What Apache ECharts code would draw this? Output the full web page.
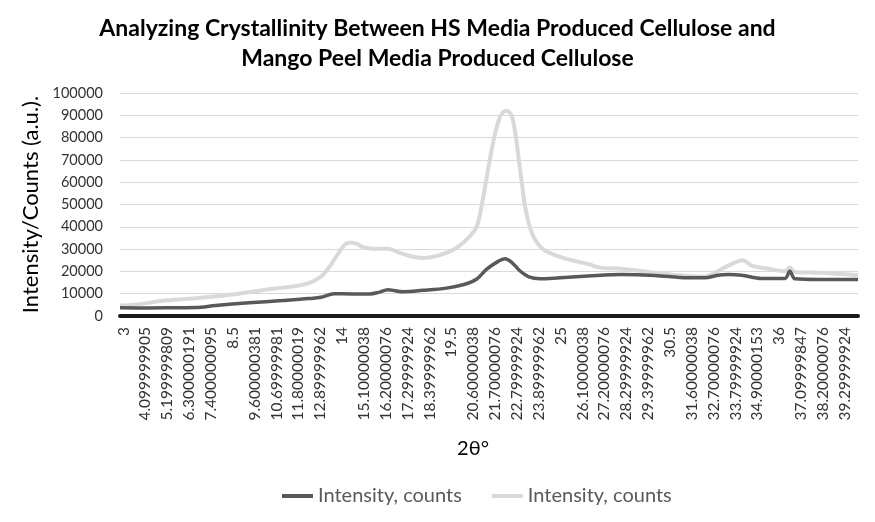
<!DOCTYPE html>
<html>
<head>
<meta charset="utf-8">
<script src="https://cdn.jsdelivr.net/npm/echarts@6/dist/echarts.min.js"></script>
<style>
  html, body { margin: 0; padding: 0; background: #fff; }
  #chart { width: 875px; height: 522px; }
</style>
</head>
<body>
<div id="chart"></div>
<script>
// 2θ tick positions and their labels as printed on the original category axis
const tickValues = [3, 4.1, 5.2, 6.3, 7.4, 8.5, 9.6, 10.7, 11.8, 12.9, 14, 15.1, 16.2, 17.3, 18.4, 19.5,
  20.6, 21.7, 22.8, 23.9, 25, 26.1, 27.2, 28.3, 29.4, 30.5, 31.6, 32.7, 33.8, 34.9, 36, 37.1, 38.2, 39.3];
const tickLabels = ["3", "4.099999905", "5.199999809", "6.300000191", "7.400000095", "8.5", "9.600000381",
  "10.69999981", "11.80000019", "12.89999962", "14", "15.10000038", "16.20000076", "17.29999924",
  "18.39999962", "19.5", "20.60000038", "21.70000076", "22.79999924", "23.89999962", "25",
  "26.10000038", "27.20000076", "28.29999924", "29.39999962", "30.5", "31.60000038", "32.70000076",
  "33.79999924", "34.90000153", "36", "37.09999847", "38.20000076", "39.29999924"];

// HS media produced cellulose (dark line)
const darkTheta = [2.82, 4.27, 5.5, 6.63, 7.63, 9.31, 10.99, 12.33, 13.0, 13.59, 14.5, 15.39, 15.84,
  16.31, 16.73, 17.06, 18.07, 19.25, 20.08, 20.76, 21.26, 21.85, 22.18, 22.52, 22.94, 23.44, 23.95,
  24.79, 26.38, 28.06, 29.74, 31.41, 32.25, 32.91, 33.43, 34.1, 35.11, 36.28, 36.53, 36.79, 37.96, 39.96];
const darkCounts = [3700, 3600, 3700, 3800, 4700, 5900, 6900, 7800, 8500, 10000, 9900, 9900, 10600,
  11800, 11200, 10900, 11500, 12500, 14000, 16500, 20900, 24500, 25700, 24200, 20300, 17400, 16700,
  17000, 17900, 18600, 18200, 17100, 17100, 18300, 18600, 18300, 16800, 16800, 20100, 16700, 16400, 16400];

// Mango peel media produced cellulose (light line)
const lightTheta = [2.82, 3.6, 5.11, 6.79, 8.47, 10.15, 11.49, 12.33, 12.92, 13.34, 13.71, 14.13, 14.4,
  14.75, 15.05, 15.55, 16.31, 16.73, 17.4, 18.07, 18.91, 19.75, 20.42, 20.77, 21.03, 21.23, 21.43, 21.65,
  21.93, 22.1, 22.27, 22.42, 22.56, 22.75, 22.89, 23.04, 23.19, 23.44, 23.69, 24.03, 24.45, 24.92, 25.54,
  26.38, 26.97, 28.06, 29.74, 31.41, 32.25, 32.75, 33.43, 34.18, 34.6, 35.44, 36.28, 36.53, 36.79, 38.13, 39.96];
const lightCounts = [4700, 5100, 6900, 8100, 9600, 11800, 13200, 14700, 17600, 21800, 26700, 32000, 33000,
  32300, 30900, 30200, 30200, 28900, 26900, 26000, 27300, 30500, 35700, 40000, 50000, 60000, 70000, 80000,
  89000, 91300, 92000, 91300, 89000, 80000, 70000, 60000, 50000, 40000, 34500, 30500, 28300, 26600, 25000,
  23300, 21700, 21200, 19400, 17900, 17600, 19400, 22600, 25000, 22600, 21200, 20100, 21600, 19700, 19400, 18300];

const seriesNames = ["Intensity, counts", "Intensity, counts "];

function pairs(xs, ys) { return xs.map((x, i) => [x, ys[i]]); }

const chart = echarts.init(document.getElementById('chart'), null, { renderer: 'canvas' });
const font = 'Lato, "Open Sans", "DejaVu Sans", sans-serif';

chart.setOption({
  animation: false,
  backgroundColor: '#ffffff',
  title: {
    text: 'Analyzing Crystallinity Between HS Media Produced Cellulose and\nMango Peel Media Produced Cellulose',
    left: 'center',
    top: 9,
    textStyle: { fontFamily: font, fontWeight: 'bold', fontSize: 23, lineHeight: 30, color: '#000' }
  },
  legend: {
    left: 277,
    top: 481,
    itemWidth: 31,
    itemHeight: 4,
    itemGap: 30,
    icon: 'rect',
    data: [seriesNames[0], seriesNames[1]],
    textStyle: { fontFamily: font, fontSize: 20, color: '#595959' },
    formatter: n => n.trim()
  },
  grid: { left: 120, right: 17, top: 93, bottom: 206 },
  xAxis: {
    type: 'value',
    min: 2.82,
    max: 39.96,
    name: '2θ°',
    nameLocation: 'middle',
    nameGap: 123,
    nameTextStyle: { fontFamily: font, fontSize: 20, color: '#000', padding: [0, 32, 0, 0] },
    axisLine: { show: true, lineStyle: { color: '#1a1a1a', width: 4 } },
    axisTick: { show: false },
    splitLine: { show: false },
    axisLabel: {
      customValues: tickValues,
      rotate: 90,
      margin: 11,
      fontFamily: font,
      fontSize: 15.5,
      color: '#333',
      hideOverlap: false,
      formatter: v => {
        let best = 0;
        tickValues.forEach((t, i) => { if (Math.abs(t - v) < Math.abs(tickValues[best] - v)) best = i; });
        return tickLabels[best];
      }
    }
  },
  yAxis: {
    type: 'value',
    min: 0,
    max: 100000,
    interval: 10000,
    name: 'Intensity/Counts (a.u.).',
    nameLocation: 'middle',
    nameGap: 78,
    nameTextStyle: { fontFamily: font, fontSize: 22, color: '#000' },
    axisLine: { show: false },
    axisTick: { show: false },
    splitLine: { lineStyle: { color: '#d9d9d9', width: 1 } },
    axisLabel: { fontFamily: font, fontSize: 14.5, color: '#333', margin: 17, formatter: v => String(v) }
  },
  series: [
    {
      name: seriesNames[0],
      type: 'line',
      data: pairs(darkTheta, darkCounts),
      symbol: 'none',
      smooth: 0.35,
      lineStyle: { color: '#595959', width: 3.5 },
      itemStyle: { color: '#595959' },
      z: 3
    },
    {
      name: seriesNames[1],
      type: 'line',
      data: pairs(lightTheta, lightCounts),
      symbol: 'none',
      smooth: 0.35,
      lineStyle: { color: '#d9d9d9', width: 4 },
      itemStyle: { color: '#d9d9d9' },
      z: 2
    }
  ]
});
</script>
</body>
</html>
